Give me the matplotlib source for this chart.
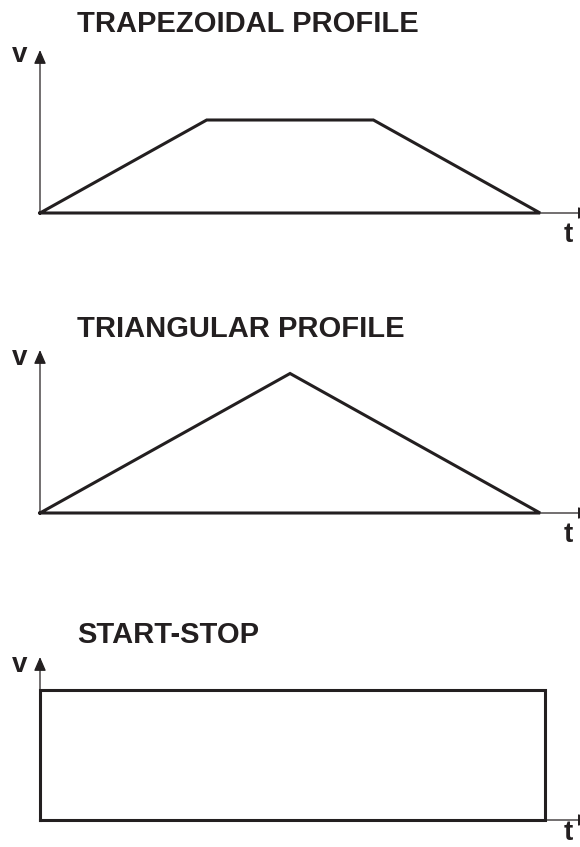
import matplotlib.pyplot as plt

# Profile data (time units, velocity units)
trap_t = [0, 1, 2, 3, 0]
trap_v = [0, 1, 1, 0, 0]

tri_t = [0, 1.5, 3, 0]
tri_v = [0, 1.5, 0, 0]

ss_t = [0, 0, 3.03, 3.03, 0]
ss_v = [0, 1.4, 1.4, 0, 0]

titles = ["TRAPEZOIDAL PROFILE", "TRIANGULAR PROFILE", "START-STOP"]

W, H = 580, 847
INK = "#231f20"
FONT = "Liberation Sans"

fig = plt.figure(figsize=(W / 100, H / 100), dpi=100)
fig.patch.set_facecolor("white")

# pixel positions: axis corner y, title centre y, "v" centre y
origins = [213, 513, 820]
title_y = [24, 329, 635]
v_y = [55, 358, 665]

X0 = 40
AX_W = W - X0
AX_H = 163
T_MAX = AX_W / 166.7
V_MAX = AX_H / 93.0

profiles = [(trap_t, trap_v), (tri_t, tri_v), (ss_t, ss_v)]
head = "-|>,head_length=0.6,head_width=0.26"

for i, (t, v) in enumerate(profiles):
    y0 = origins[i]
    ax = fig.add_axes([X0 / W, (H - y0) / H, AX_W / W, AX_H / H])
    ax.set_xlim(0, T_MAX)
    ax.set_ylim(0, V_MAX)
    ax.axis("off")

    # axes with arrows
    ax.annotate("", xy=(0, V_MAX), xytext=(0, 0),
                arrowprops=dict(arrowstyle=head, lw=0.9, color=INK,
                                mutation_scale=14, shrinkA=0, shrinkB=0),
                annotation_clip=False)
    ax.annotate("", xy=(T_MAX * 1.022, 0), xytext=(0, 0),
                arrowprops=dict(arrowstyle=head, lw=0.9, color=INK,
                                mutation_scale=14, shrinkA=0, shrinkB=0),
                annotation_clip=False)

    # velocity profile
    ax.plot(t, v, color=INK, lw=2.2, solid_joinstyle="miter", clip_on=False)

    fig.text(77 / W, 1 - title_y[i] / H, titles[i], fontsize=21,
             fontweight="bold", family=FONT, color=INK, va="center", ha="left")
    fig.text(20 / W, 1 - v_y[i] / H, "v", fontsize=20, fontweight="bold",
             family=FONT, color=INK, va="center", ha="center")
    t_base = min(y0 + 29, 840)
    fig.text(568 / W, 1 - t_base / H, "t", fontsize=20, fontweight="bold",
             family=FONT, color=INK, va="baseline", ha="center")

fig.savefig("out.png", dpi=100, facecolor="white")
